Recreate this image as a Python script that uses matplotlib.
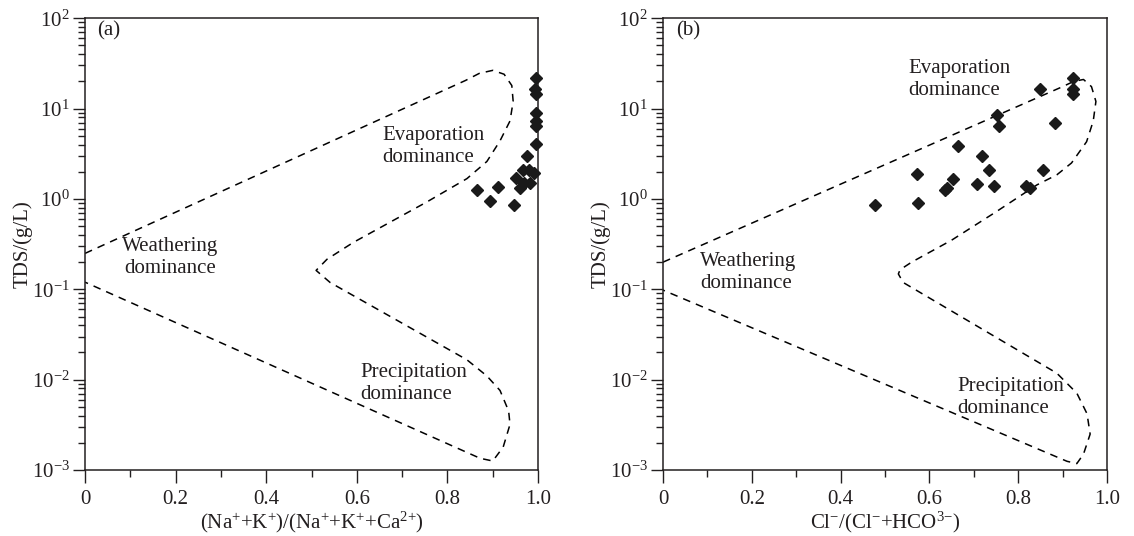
import numpy as np
import matplotlib
matplotlib.use("Agg")
import matplotlib.pyplot as plt
from matplotlib.ticker import LogLocator, NullFormatter, MultipleLocator, FixedLocator, FixedFormatter

plt.rcParams['font.family'] = ['Liberation Serif', 'DejaVu Serif']
plt.rcParams['mathtext.fontset'] = 'custom'
plt.rcParams['mathtext.rm'] = 'Liberation Serif'
plt.rcParams['mathtext.it'] = 'Liberation Serif:italic'
plt.rcParams['mathtext.bf'] = 'Liberation Serif:bold'
ink = '#231f20'
plt.rcParams['text.color'] = ink
plt.rcParams['axes.labelcolor'] = ink
plt.rcParams['xtick.color'] = ink
plt.rcParams['ytick.color'] = ink
plt.rcParams['axes.edgecolor'] = ink

# (a) Na/(Na+Ca) ratio vs TDS
xa = [0.995, 0.993, 0.995, 0.995, 0.995, 0.995, 0.995, 0.975, 0.967, 0.980,
      0.992, 0.952, 0.968, 0.983, 0.960, 0.911, 0.866, 0.894, 0.946]
ya = [22, 16.5, 14.5, 9.0, 7.3, 6.5, 4.1, 3.0, 2.1, 2.1,
      1.95, 1.7, 1.52, 1.49, 1.32, 1.35, 1.25, 0.94, 0.85]

# (b) Cl/(Cl+HCO3) ratio vs TDS
xb = [0.923, 0.924, 0.924, 0.850, 0.752, 0.757, 0.883, 0.665, 0.718, 0.735,
      0.855, 0.571, 0.652, 0.707, 0.745, 0.635, 0.640, 0.818, 0.826, 0.477, 0.575]
yb = [21.8, 16.4, 14.5, 16.4, 8.6, 6.4, 7.0, 3.9, 2.96, 2.07,
      2.07, 1.9, 1.67, 1.47, 1.40, 1.26, 1.33, 1.38, 1.32, 0.855, 0.91]

# Gibbs boundary curves (x, TDS)
bnd_a_x = [0.0, 0.84, 0.87, 0.90, 0.925, 0.942, 0.945, 0.938, 0.916, 0.887,
           0.843, 0.755, 0.592, 0.534, 0.51, 0.541, 0.843, 0.887, 0.916,
           0.935, 0.938, 0.923, 0.90, 0.872, 0.0]
bnd_a_y = [0.25, 20.5, 24.5, 26.5, 24.0, 18.0, 12.0, 7.3, 4.4, 2.6,
           1.68, 0.93, 0.33, 0.215, 0.162, 0.119, 0.0166, 0.011, 0.0076,
           0.0045, 0.0032, 0.0018, 0.00126, 0.00135, 0.12]

bnd_b_x = [0.0, 0.90, 0.925, 0.947, 0.965, 0.975, 0.969, 0.954, 0.92, 0.887,
           0.842, 0.75, 0.65, 0.56, 0.534, 0.53, 0.541, 0.887, 0.932, 0.955,
           0.962, 0.947, 0.932, 0.91, 0.0]
bnd_b_y = [0.2, 17.5, 20.0, 21.0, 17.5, 12.0, 7.3, 4.3, 2.5, 1.85,
           1.43, 0.72, 0.35, 0.2, 0.165, 0.148, 0.119, 0.0118, 0.0071, 0.0042,
           0.0025, 0.0015, 0.00118, 0.00125, 0.098]

xtick_vals = [0, 0.2, 0.4, 0.6, 0.8, 1.0]
xtick_labels = ['0', '0.2', '0.4', '0.6', '0.8', '1.0']

fs = 15
fig = plt.figure(figsize=(11.34, 5.36), dpi=100)
ax1 = fig.add_axes([0.075, 0.123, 0.3995, 0.843])
ax2 = fig.add_axes([0.5847, 0.123, 0.3915, 0.843])


def style(ax, xlabel):
    ax.set_yscale('log')
    ax.set_xlim(0, 1.0)
    ax.set_ylim(1e-3, 1e2)
    ax.xaxis.set_major_locator(FixedLocator(xtick_vals))
    ax.xaxis.set_major_formatter(FixedFormatter(xtick_labels))
    ax.xaxis.set_minor_locator(MultipleLocator(0.1))
    ax.yaxis.set_major_locator(LogLocator(base=10, numticks=10))
    ax.yaxis.set_minor_locator(LogLocator(base=10, subs=np.arange(2, 10), numticks=20))
    ax.yaxis.set_minor_formatter(NullFormatter())
    ax.tick_params(which='major', direction='out', length=9, width=1, labelsize=fs,
                   top=False, right=False)
    ax.tick_params(which='minor', direction='out', length=5, width=1,
                   top=False, right=False)
    ax.tick_params(axis='x', pad=5)
    ax.tick_params(axis='y', pad=2)
    for s in ax.spines.values():
        s.set_linewidth(1.1)
    ax.set_xlabel(xlabel, fontsize=fs, labelpad=1)
    ax.set_ylabel('TDS/(g/L)', fontsize=fs)
    ax.yaxis.set_label_coords(-52 / (ax.get_position().width * 1134), 0.5)


style(ax1, r'(Na$^{+}$+K$^{+}$)/(Na$^{+}$+K$^{+}$+Ca$^{2{+}}$)')
style(ax2, r'Cl$^{-}$/(Cl$^{-}$+HCO$^{3{-}}$)')

ax1.plot(bnd_a_x, bnd_a_y, color='black', lw=1.1, ls=(0, (5, 4)))
ax2.plot(bnd_b_x, bnd_b_y, color='black', lw=1.1, ls=(0, (5, 4)))

ax1.plot(xa, ya, 'D', color='#1a1a1a', ms=6, clip_on=False, zorder=5)
ax2.plot(xb, yb, 'D', color='#1a1a1a', ms=6, clip_on=False, zorder=5)

ax1.text(0.026, 0.973, '(a)', transform=ax1.transAxes, fontsize=fs, va='center', ha='left')
ax2.text(0.029, 0.973, '(b)', transform=ax2.transAxes, fontsize=fs, va='center', ha='left')

ax1.text(0.656, 3.78, 'Evaporation\ndominance', fontsize=fs, ha='left', va='center')
ax1.text(0.188, 0.223, 'Weathering\ndominance', fontsize=fs, ha='center', va='center',
         multialignment='center')
ax1.text(0.607, 0.009, 'Precipitation\ndominance', fontsize=fs, ha='left', va='center')

ax2.text(0.552, 21.1, 'Evaporation\ndominance', fontsize=fs, ha='left', va='center')
ax2.text(0.083, 0.152, 'Weathering\ndominance', fontsize=fs, ha='left', va='center')
ax2.text(0.662, 0.0064, 'Precipitation\ndominance', fontsize=fs, ha='left', va='center')

fig.savefig('out.png', dpi=100)
